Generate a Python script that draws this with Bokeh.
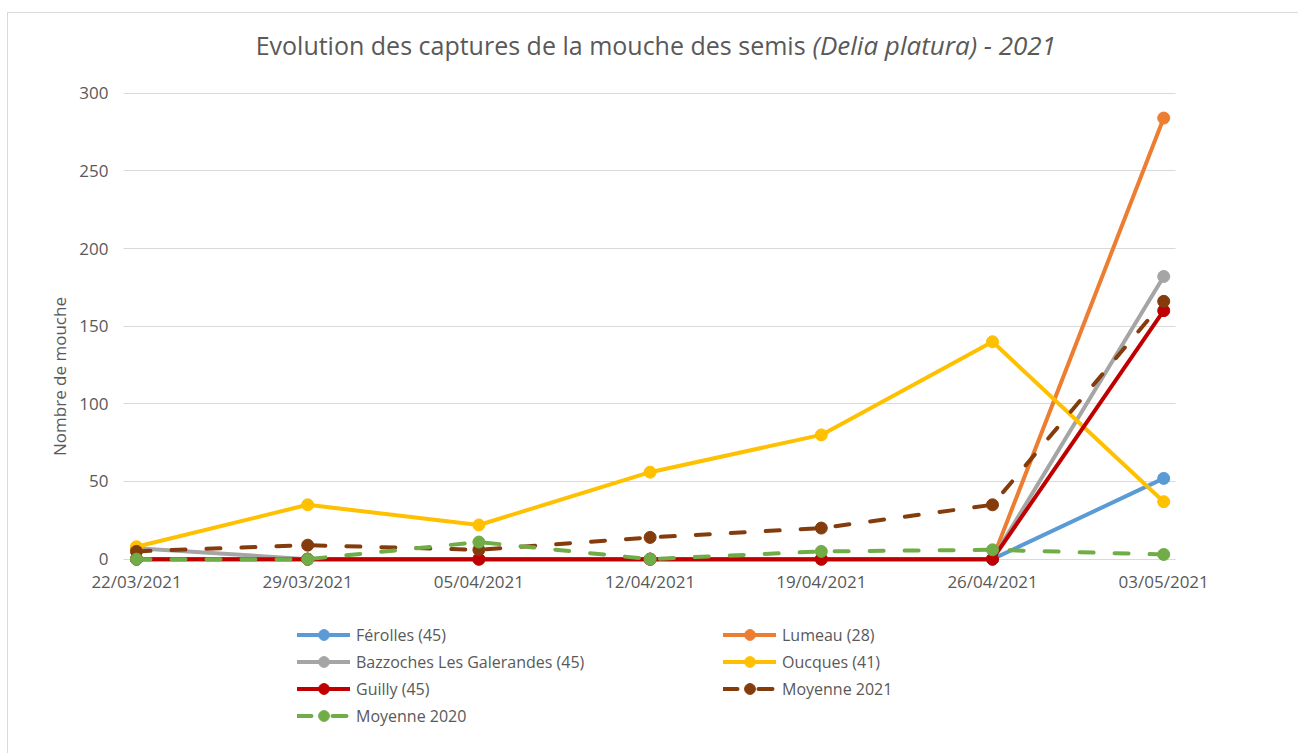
from bokeh.plotting import figure
from bokeh.models import Legend, LegendItem, Label, FixedTicker, Range1d
from bokeh.embed import file_html
from bokeh.resources import INLINE

dates = ["22/03/2021", "29/03/2021", "05/04/2021", "12/04/2021",
         "19/04/2021", "26/04/2021", "03/05/2021"]
y_ticks = [0, 50, 100, 150, 200, 250, 300]

ferolles = [0, 0, 0, 0, 0, 0, 52]
lumeau = [0, 0, 0, 0, 0, 0, 284]
bazzoches = [7, 0, 0, 0, 0, 0, 182]
oucques = [8, 35, 22, 56, 80, 140, 37]
guilly = [0, 0, 0, 0, 0, 0, 160]
moyenne_2021 = [5, 9, 6, 14, 20, 35, 166]
moyenne_2020 = [0, 0, 11, 0, 5, 6, 3]

series = [
    ("Férolles (45)", ferolles, "#5B9BD5", "solid"),
    ("Lumeau (28)", lumeau, "#ED7D31", "solid"),
    ("Bazzoches Les Galerandes (45)", bazzoches, "#A5A5A5", "solid"),
    ("Oucques (41)", oucques, "#FFC000", "solid"),
    ("Guilly (45)", guilly, "#C00000", "solid"),
    ("Moyenne 2021", moyenne_2021, "#843C0C", "14 21"),
    ("Moyenne 2020", moyenne_2020, "#70AD47", "14 21"),
]

FONT = "Open Sans"
TXT = "#595959"
GRID_X = (-0.076, 6.07)   # horizontal extent of the plot area (gridlines)

p = figure(width=1291, height=741,
           x_range=Range1d(-0.292, 6.285), y_range=Range1d(-108.4, 343.6),
           output_backend="svg", toolbar_location=None,
           min_border_left=78, min_border_right=87,
           min_border_top=12, min_border_bottom=27)
p.styles = {"border-left": "1px solid #D9D9D9", "border-top": "1px solid #D9D9D9",
            "margin-left": "7px", "margin-top": "12px"}
p.outline_line_color = None
p.background_fill_color = "white"
p.border_fill_color = "white"

# horizontal gridlines limited to the plot area
p.xgrid.grid_line_color = None
p.ygrid.ticker = FixedTicker(ticks=y_ticks)
try:
    p.ygrid[0].cross_bounds = GRID_X
    p.ygrid.grid_line_color = "#D9D9D9"
    p.ygrid.grid_line_width = 1
except Exception:
    p.ygrid.grid_line_color = None
    p.segment(x0=[GRID_X[0]] * len(y_ticks), y0=y_ticks,
              x1=[GRID_X[1]] * len(y_ticks), y1=y_ticks,
              line_color="#D9D9D9", line_width=1, level="underlay")

xs = list(range(len(dates)))
items = []
for name, vals, color, dash in series:
    r1 = p.line(xs, vals, line_color=color, line_width=4,
                line_dash=dash, line_cap="round", line_join="round")
    r2 = p.scatter(xs, vals, size=12, fill_color=color, line_color=color)
    items.append(LegendItem(label=name, renderers=[r1, r2]))

# axes
p.xaxis.ticker = FixedTicker(ticks=xs)
p.xaxis.major_label_overrides = {i: d for i, d in enumerate(dates)}
p.xaxis.fixed_location = -6
p.yaxis.ticker = FixedTicker(ticks=y_ticks)
p.yaxis.bounds = (0, 300)
for ax in (p.xaxis[0], p.yaxis[0]):
    ax.axis_line_color = None
    ax.major_tick_line_color = None
    ax.minor_tick_line_color = None
    ax.major_tick_out = 0
    ax.major_tick_in = 0
    ax.major_label_text_font = FONT
    ax.major_label_text_font_size = "17px"
    ax.major_label_text_color = TXT
p.xaxis.major_label_standoff = 2
p.yaxis.major_label_standoff = -22
p.yaxis.axis_label = "Nombre de mouche"
p.yaxis.axis_label_text_font = FONT
p.yaxis.axis_label_text_font_size = "17px"
p.yaxis.axis_label_text_font_style = "normal"
p.yaxis.axis_label_text_color = TXT
p.yaxis.axis_label_standoff = 5

# legend: two columns (left: items 0,2,4,6 ; right: 1,3,5)
ordered = [items[0], items[2], items[4], items[6], items[1], items[3], items[5]]
legend = Legend(items=ordered, location=(211, -2), orientation="vertical",
                ncols=2, padding=0, margin=0, spacing=0,
                glyph_width=53, glyph_height=27, label_height=27,
                label_width=367, label_standoff=6,
                label_text_font=FONT, label_text_font_size="16px",
                label_text_color=TXT,
                border_line_color=None, background_fill_alpha=0)
p.add_layout(legend, "center")

# title in two parts (regular + italic)
t1 = Label(x=3.908, y=331, text="Evolution des captures de la mouche des semis",
           text_align="right", text_baseline="middle",
           text_font=FONT, text_font_size="25px", text_color=TXT)
t2 = Label(x=3.949, y=331, text="(Delia platura) - 2021",
           text_align="left", text_baseline="middle",
           text_font=FONT, text_font_size="26px", text_font_style="italic",
           text_color=TXT)
p.add_layout(t1)
p.add_layout(t2)

open("out.html", "w").write(file_html(p, INLINE))
